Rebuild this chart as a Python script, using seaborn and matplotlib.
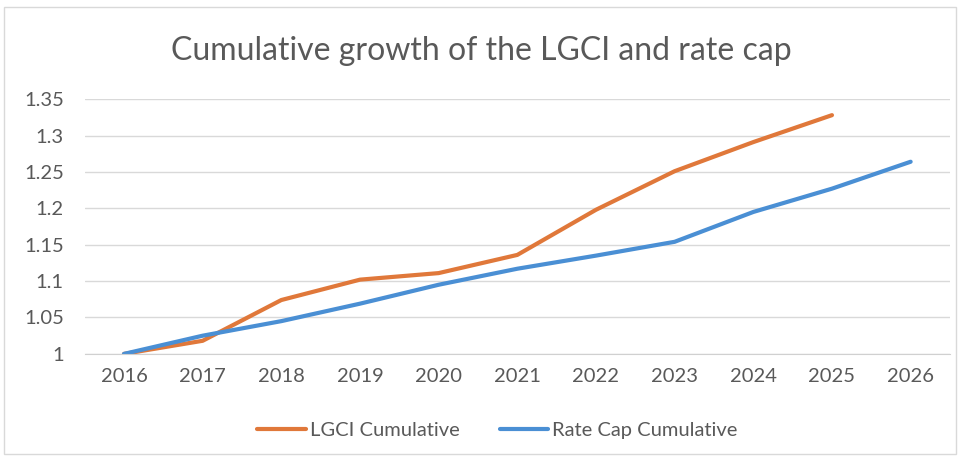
import numpy as np
import pandas as pd
import seaborn as sns
import matplotlib.pyplot as plt
from matplotlib.patches import Rectangle

years = ["2016", "2017", "2018", "2019", "2020", "2021", "2022", "2023", "2024", "2025", "2026"]
lgci_cumulative = [1.0, 1.018, 1.074, 1.102, 1.111, 1.136, 1.198, 1.251, 1.291, 1.328, np.nan]
rate_cap_cumulative = [1.0, 1.025, 1.045, 1.069, 1.095, 1.117, 1.135, 1.154, 1.195, 1.227, 1.264]
y_ticks = [1, 1.05, 1.1, 1.15, 1.2, 1.25, 1.3, 1.35]
y_labels = ["1", "1.05", "1.1", "1.15", "1.2", "1.25", "1.3", "1.35"]

df = pd.DataFrame({
    "year": years * 2,
    "value": lgci_cumulative + rate_cap_cumulative,
    "series": ["LGCI Cumulative"] * len(years) + ["Rate Cap Cumulative"] * len(years),
})
df["x"] = list(range(len(years))) * 2

sns.set_style("white")
plt.rcParams["font.family"] = ["Lato", "DejaVu Sans"]

fig = plt.figure(figsize=(9.62, 4.59), dpi=100)
ax = fig.add_axes([0.088, 0.229, 0.8995, 0.555])

sns.lineplot(data=df, x="x", y="value", hue="series",
             palette={"LGCI Cumulative": "#E0783A", "Rate Cap Cumulative": "#4A8FD4"},
             linewidth=3, ax=ax, legend=False)

ax.set_xlim(-0.5, len(years) - 0.5)
ax.set_ylim(1, 1.35)
ax.set_yticks(y_ticks)
ax.set_yticklabels(y_labels)
ax.set_xticks(range(len(years)))
ax.set_xticklabels(years)
ax.set_xticks(np.arange(-0.5, len(years), 1), minor=True)
ax.tick_params(axis="x", which="major", length=0, pad=10, labelsize=14.5, labelcolor="#595959")
ax.tick_params(axis="x", which="minor", length=6, color="#d0d0d0", width=1)
ax.tick_params(axis="y", length=0, pad=15, labelsize=14.5, labelcolor="#595959")
ax.yaxis.grid(True, color="#d9d9d9", linewidth=1)
ax.set_axisbelow(True)
for side in ["top", "left", "right"]:
    ax.spines[side].set_visible(False)
ax.spines["bottom"].set_color("#d0d0d0")
ax.set_xlabel("")
ax.set_ylabel("")

fig.text(0.5, 0.888, "Cumulative growth of the LGCI and rate cap",
         ha="center", va="center", fontsize=23, color="#595959")

handles = [plt.Line2D([], [], color="#E0783A", linewidth=3),
           plt.Line2D([], [], color="#4A8FD4", linewidth=3)]
fig.legend(handles, ["LGCI Cumulative", "Rate Cap Cumulative"], loc="center",
           bbox_to_anchor=(0.517, 0.063), ncol=2, frameon=False, fontsize=14.5,
           labelcolor="#595959", handlelength=2.4, handletextpad=0.2, columnspacing=2.0)

fig.patches.append(Rectangle((0.004, 0.01), 0.99, 0.975, transform=fig.transFigure,
                             fill=False, edgecolor="#d9d9d9", linewidth=1))

fig.savefig("out.png", dpi=100)
